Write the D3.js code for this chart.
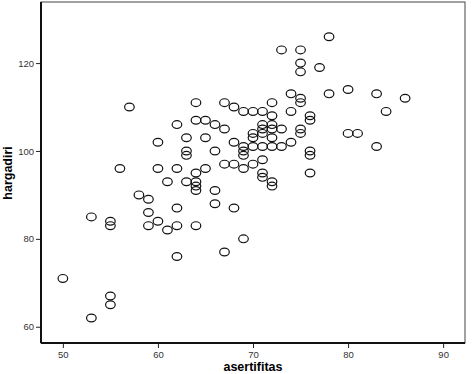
<!DOCTYPE html>
<html>
<head>
<meta charset="utf-8">
<script src="https://cdn.jsdelivr.net/npm/d3@7"></script>
<style>
  body { margin: 0; background: #fff; }
  svg text { font-family: "Liberation Sans", Arial, sans-serif; }
</style>
</head>
<body>
<div id="chart"></div>
<script>
// asertifitas (x) vs hargadiri (y)
const asertifitas = [50, 53, 53, 55, 55, 55, 55, 56, 57, 58, 59, 59, 59, 60, 60, 60, 61, 61,
  62, 62, 62, 62, 62, 63, 63, 63, 63, 64, 64, 64, 64, 64, 64, 64, 65, 65, 65, 66, 66, 66, 66,
  67, 67, 67, 67, 68, 68, 68, 68, 69, 69, 69, 69, 69, 69, 70, 70, 70, 70, 70,
  71, 71, 71, 71, 71, 71, 71, 71, 72, 72, 72, 72, 72, 72, 72, 72, 73, 73, 73, 74, 74, 74,
  75, 75, 75, 75, 75, 75, 75, 76, 76, 76, 76, 76, 77, 78, 78, 80, 80, 81, 83, 83, 84, 86];
const hargadiri = [71, 85, 62, 84, 83, 67, 65, 96, 110, 90, 89, 86, 83, 102, 96, 84, 93, 82,
  106, 96, 87, 83, 76, 103, 100, 99, 93, 111, 107, 95, 93, 92, 91, 83, 107, 103, 96, 106, 100, 91, 88,
  111, 105, 97, 77, 110, 102, 97, 87, 109, 101, 100, 99, 96, 80, 109, 104, 103, 101, 97,
  109, 106, 105, 104, 101, 98, 95, 94, 111, 108, 106, 105, 103, 101, 93, 92, 123, 105, 101, 113, 109, 102,
  123, 120, 118, 112, 111, 105, 104, 108, 107, 100, 99, 95, 119, 126, 113, 114, 104, 104, 113, 101, 109, 112];

const xTicks = [50, 60, 70, 80, 90];
const yTicks = [60, 80, 100, 120];
const xDomain = [47.7, 92.3];
const yDomain = [56.3, 133.9];

const W = 473, H = 374;
const margin = { top: 2, right: 8, bottom: 31, left: 41 };
const width = W - margin.left - margin.right,
      height = H - margin.top - margin.bottom;

const svg = d3.select("#chart").append("svg")
    .attr("width", W)
    .attr("height", H);

const g = svg.append("g")
    .attr("transform", "translate(" + margin.left + "," + margin.top + ")");

const x = d3.scaleLinear().domain(xDomain).range([0, width]);
const y = d3.scaleLinear().domain(yDomain).range([height, 0]);

// frame (top and right thin)
g.append("rect")
    .attr("x", 0).attr("y", 0)
    .attr("width", width).attr("height", height)
    .attr("fill", "none")
    .attr("stroke", "#444")
    .attr("stroke-width", 1);

// axes
const xAxis = g.append("g")
    .attr("transform", "translate(0," + height + ")")
    .call(d3.axisBottom(x).tickValues(xTicks).tickSize(5).tickPadding(3));
const yAxis = g.append("g")
    .call(d3.axisLeft(y).tickValues(yTicks).tickSize(5).tickPadding(2));

[xAxis, yAxis].forEach(a => {
  a.select(".domain").remove();
  a.selectAll(".tick line").attr("stroke", "#222").attr("stroke-width", 1);
  a.selectAll(".tick text").attr("fill", "#333").style("font-size", "9.5px");
});

// thick axis lines
g.append("line").attr("x1", 0).attr("x2", 0).attr("y1", 0).attr("y2", height)
    .attr("stroke", "#111").attr("stroke-width", 2);
g.append("line").attr("x1", 0).attr("x2", width).attr("y1", height).attr("y2", height)
    .attr("stroke", "#111").attr("stroke-width", 2);

// points
const pts = asertifitas.map((v, i) => ({ x: v, y: hargadiri[i] }));
g.selectAll("ellipse.pt")
    .data(pts)
    .enter().append("ellipse")
    .attr("class", "pt")
    .attr("cx", d => x(d.x))
    .attr("cy", d => y(d.y))
    .attr("rx", 4.8)
    .attr("ry", 3.9)
    .attr("fill", "none")
    .attr("stroke", "#111")
    .attr("stroke-width", 1.2);

// axis titles
svg.append("text")
    .attr("x", margin.left + x(70))
    .attr("y", 371)
    .attr("text-anchor", "middle")
    .style("font-size", "12.5px")
    .style("font-weight", "bold")
    .text("asertifitas");

svg.append("text")
    .attr("transform", "translate(12," + (margin.top + y(95)) + ") rotate(-90)")
    .attr("text-anchor", "middle")
    .style("font-size", "12.5px")
    .style("font-weight", "bold")
    .text("hargadiri");
</script>
</body>
</html>
